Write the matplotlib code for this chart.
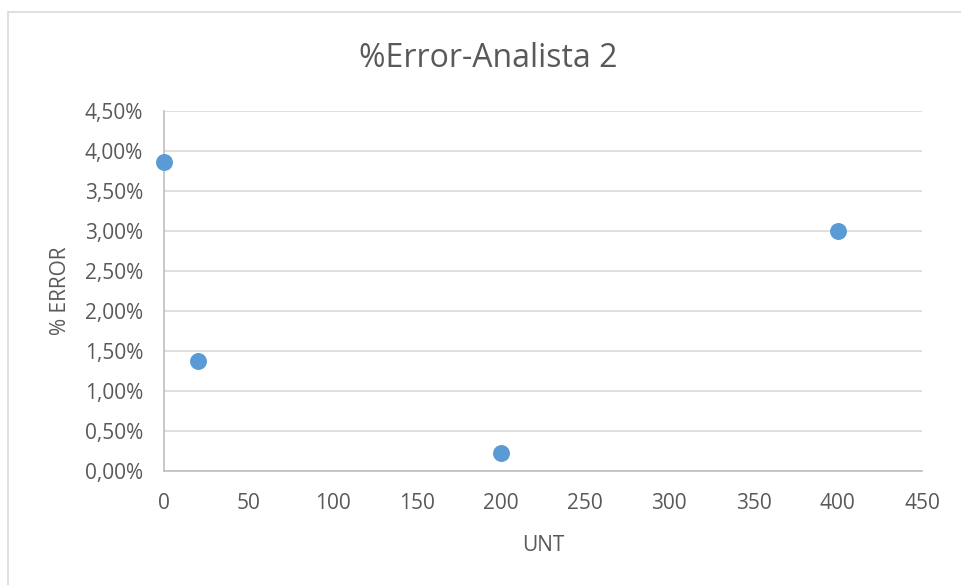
import matplotlib.pyplot as plt
from matplotlib.ticker import FuncFormatter, MultipleLocator
from matplotlib.patches import Rectangle

unt = [0, 20, 200, 400]
error_pct = [3.86, 1.37, 0.23, 3.00]

plt.rcParams['font.family'] = ['Open Sans', 'DejaVu Sans']
txt = '#595959'

fig = plt.figure(figsize=(9.61, 5.85), dpi=100)
# chart frame
fig.patches.append(Rectangle((8 / 961, -0.05), 1.0, (585 - 12) / 585 + 0.05,
                             transform=fig.transFigure, fill=False,
                             edgecolor='#D9D9D9', linewidth=1.2))

ax = fig.add_axes([164 / 961, 114 / 585, (922 - 164) / 961, (471 - 111) / 585])
ax.scatter(unt, error_pct, s=125, color='#5B9BD5', zorder=3, clip_on=False)

ax.set_xlim(0, 450)
ax.set_ylim(0, 4.5)
ax.xaxis.set_major_locator(MultipleLocator(50))
ax.yaxis.set_major_locator(MultipleLocator(0.5))
ax.yaxis.set_major_formatter(FuncFormatter(lambda v, p: f'{v:.2f}%'.replace('.', ',')))

ax.grid(axis='y', color='#D9D9D9', linewidth=1.2)
ax.set_axisbelow(True)
for s in ['top', 'right']:
    ax.spines[s].set_visible(False)
for s in ['left', 'bottom']:
    ax.spines[s].set_color('#BFBFBF')
    ax.spines[s].set_linewidth(1.2)
ax.tick_params(length=0, labelsize=15, colors=txt)
ax.tick_params(axis='y', pad=15)
ax.tick_params(axis='x', pad=16)

# title centred on the whole chart frame, not the plot area
fig.text(488 / 961, 1 - 67 / 585, '%Error-Analista 2', fontsize=23, color=txt,
         ha='center', va='baseline')
ax.set_xlabel('UNT', fontsize=15, color=txt, labelpad=15)
ax.set_ylabel('% ERROR', fontsize=15, color=txt, labelpad=10)

fig.savefig('out.png', dpi=100)
